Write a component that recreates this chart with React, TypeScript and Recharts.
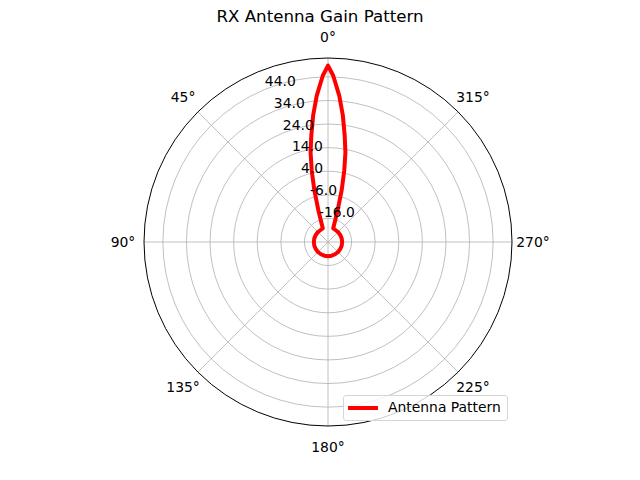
import React from "react";
import {
  RadarChart, Radar, PolarGrid, PolarAngleAxis, PolarRadiusAxis, Legend,
} from "recharts";

// angle in degrees (0 = up, counter-clockwise), gain in dB
const angles = [
  0, 1.8, 4.4, 6.7, 8.9, 11, 12.8, 14.8, 16.9, 21,
  30, 45, 60, 75, 90, 105, 120, 135, 150, 165, 180,
  195, 210, 225, 240, 255, 270, 285, 300, 315, 330, 339,
  343.1, 345.2, 347.2, 349, 351.1, 353.3, 355.6, 358.2,
];
const gains = [
  48.8, 44.5, 36.2, 28, 19.7, 12.7, 5.1, -3.3, -11.9, -19.8,
  -20, -20, -20, -20, -20, -20, -20, -20, -20, -20, -20,
  -20, -20, -20, -20, -20, -20, -20, -20, -20, -20, -19.8,
  -11.9, -3.3, 5.1, 12.7, 19.7, 28, 36.2, 44.5,
];
const angleTicks = [0, 45, 90, 135, 180, 225, 270, 315];
const radiusTicks = [-16, -6, 4, 14, 24, 34, 44];
const radiusDomain = [-26, 51.7];

const data = angles.map((a, i) => ({ angle: a, gain: gains[i] }));

const FONT = "DejaVu Sans, sans-serif";
const TICK_SIZE = 13.9;

function AngleTick(props: any) {
  const { x, y, payload } = props;
  return (
    <text x={x} y={y} textAnchor="middle" dominantBaseline="central"
      fontSize={TICK_SIZE} fontFamily={FONT} fill="#000">
      {`${payload.value}°`}
    </text>
  );
}

function RadiusTick(props: any) {
  const { x, y, payload } = props;
  return (
    <text x={x} y={y - 3.5} textAnchor="start"
      fontSize={TICK_SIZE} fontFamily={FONT} fill="#000">
      {payload.value.toFixed(1)}
    </text>
  );
}

function LegendBox() {
  return (
    <div style={{
      display: "flex", alignItems: "center", background: "rgba(255,255,255,0.8)",
      border: "1px solid #d6d6d6", borderRadius: 3, padding: "3px 6px 4px 4px",
      fontFamily: FONT, fontSize: TICK_SIZE, color: "#000", lineHeight: "17px",
    }}>
      <span style={{ display: "inline-block", width: 30, height: 4, background: "#ff0000", marginRight: 10 }} />
      Antenna Pattern
    </div>
  );
}

export default function App() {
  return (
    <div style={{ position: "absolute", left: 0, top: 0, width: 640, height: 480, background: "#fff" }}>
      <div style={{
        position: "absolute", top: 7, left: 0, width: 640, textAlign: "center",
        fontFamily: FONT, fontSize: 16.67, color: "#000",
      }}>
        RX Antenna Gain Pattern
      </div>
      <RadarChart
        width={640}
        height={480}
        data={data}
        cx={328}
        cy={242}
        outerRadius={184}
        startAngle={90}
        endAngle={450}
        margin={{ top: 0, right: 0, bottom: 0, left: 0 }}
      >
        <PolarGrid gridType="circle" stroke="#b0b0b0" strokeWidth={0.8} />
        <PolarAngleAxis
          dataKey="angle"
          type="number"
          domain={[0, 360]}
          ticks={angleTicks}
          tick={AngleTick}
          tickLine={false}
          tickSize={21}
          axisLineType="circle"
          axisLine={{ stroke: "#000", strokeWidth: 1 }}
        />
        <PolarRadiusAxis
          type="number"
          domain={radiusDomain}
          ticks={radiusTicks}
          allowDataOverflow
          angle={112.5}
          axisLine={false}
          tickLine={false}
          tick={RadiusTick}
        />
        <Radar
          name="Antenna Pattern"
          dataKey="gain"
          stroke="#ff0000"
          strokeWidth={4}
          strokeLinejoin="round"
          fill="none"
          dot={false}
          isAnimationActive={false}
        />
        <Legend
          content={LegendBox}
          wrapperStyle={{ left: 343, top: 395, width: "auto" }}
        />
      </RadarChart>
    </div>
  );
}
